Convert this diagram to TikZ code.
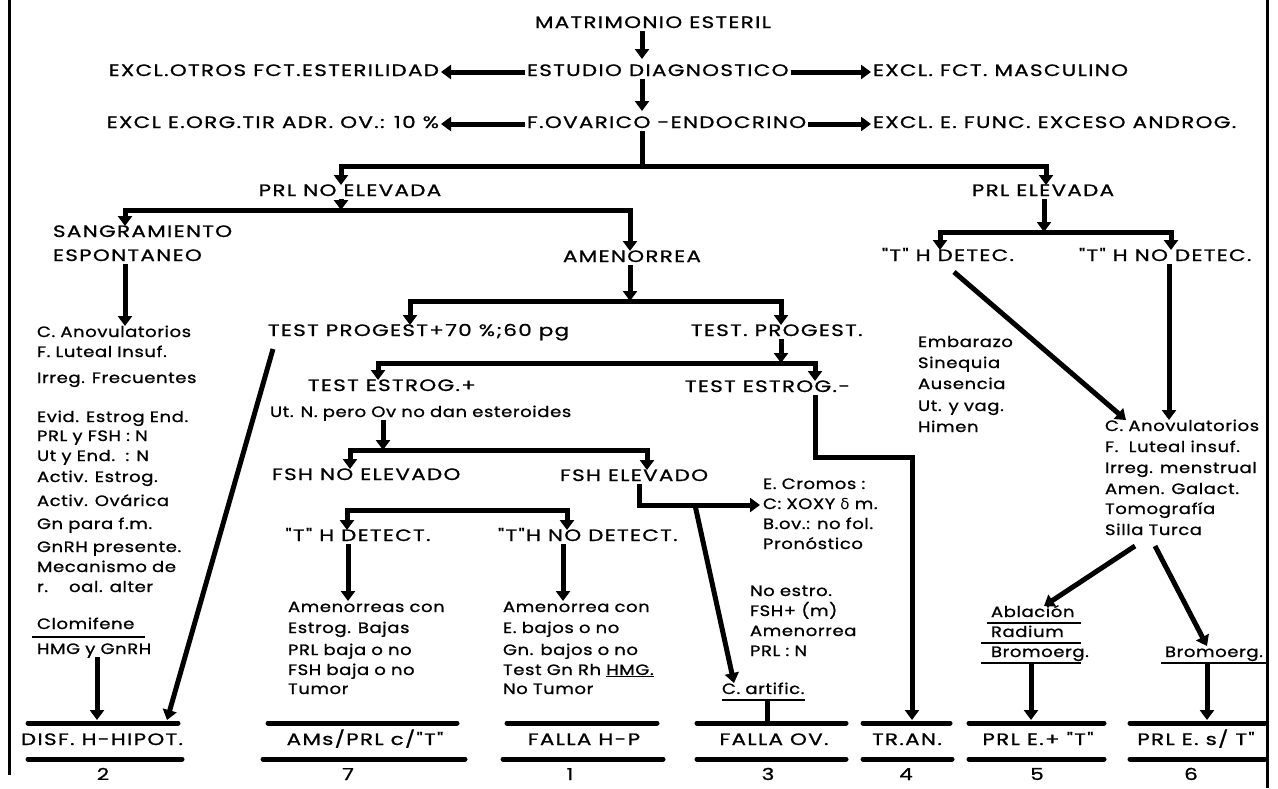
\documentclass[tikz,border=0pt]{standalone}
\usepackage{fontspec}
\setmainfont{Poppins}[FakeStretch=1.2,LetterSpace=4,WordSpace=0.95,FakeBold=1]
\newfontfamily\capf{Poppins}[FakeStretch=1.3,LetterSpace=8,FakeBold=1]
\newfontfamily\grk{DejaVu Sans}
\usetikzlibrary{arrows.meta}
\begin{document}
\begin{tikzpicture}[x=1pt,y=-1pt,
 every node/.style={inner sep=0pt,outer sep=0pt,text height=11pt,text depth=3pt,font=\fontsize{15}{18}\selectfont},
 capt/.style={font=\capf\fontsize{16.5}{19}\selectfont},
 lw/.style={anchor=west},
 conn/.style={line width=5pt},
 arr/.style={line width=5pt,-{Triangle[length=10pt,width=14pt]}},
 ul/.style={line width=2.5pt},
 bl/.style={line width=5pt,line cap=round},
 frm/.style={line width=3pt}]
\useasboundingbox (0,0) rectangle (1278,788);
% frame
\draw[frm] (9,0) -- (9,775);
\draw[frm] (1267,0) -- (1267,788);
% top
\coordinate (cx) at (642,0);
\node[capt] (matri) at (653,24) {MATRIMONIO ESTERIL};
\node[lw,capt] (estudio) at (527,72) {ESTUDIO DIAGNOSTICO};
\node[anchor=east,capt] (exotros) at (439,72) {EXCL.OTROS FCT.ESTERILIDAD};
\node[lw,capt] (exmasc) at (873,72) {EXCL. FCT. MASCULINO};
\node[lw,capt] (fovar) at (527,124) {F.OVARICO -ENDOCRINO};
\node[anchor=east,capt] (exorg) at (439,124) {EXCL E.ORG.TIR ADR. OV.: 10 \%};
\node[lw,capt] (exfunc) at (873,124) {EXCL. E. FUNC. EXCESO ANDROG.};
\draw[arr,shorten >=2pt,shorten <=2pt] (estudio.west) -- (exotros.east);
\draw[arr,shorten >=2pt,shorten <=2pt] (estudio.east) -- (exmasc.west);
\draw[arr,shorten >=2pt,shorten <=2pt] (fovar.west) -- (exorg.east);
\draw[arr,shorten >=2pt,shorten <=2pt] (fovar.east) -- (exfunc.west);
\draw[arr,shorten >=6pt] (matri.south -| cx) -- (estudio.north -| cx);
\draw[arr,shorten >=6pt] (estudio.south -| cx) -- (fovar.north -| cx);
% level PRL
\coordinate (j1) at (642,166);
\node[capt] (prlno) at (350,192) {PRL NO ELEVADA};
\node[capt] (prlel) at (1043,192) {PRL ELEVADA};
\draw[conn] (fovar.south -| cx) -- (j1);
\draw[arr] (j1) -| ([xshift=-9pt]prlno.north);
\draw[arr] (j1) -| ([xshift=3pt]prlel.north);
% PRL no elevada
\coordinate (j2) at (341,210);
\draw[arr] ([xshift=-9pt]prlno.south) -- (j2);
\node[lw,capt] (sang) at (53,233) {SANGRAMIENTO};
\node[lw,capt] (espont) at (53,257) {ESPONTANEO};
\node[lw,capt] (amen) at (563,258) {AMENORREA};
\draw[arr] (j2) -| (sang.north -| 125,0);
\draw[arr] (j2) -| (amen.north -| 630,0);
% left list
\node[lw] (la1) at (37,333) {C. Anovulatorios};
\node[lw] (la2) at (37,353) {F. Luteal Insuf.};
\node[lw] (la3) at (37,379) {Irreg. Frecuentes};
\node[lw] (la4) at (37,418) {Evid. Estrog End.};
\node[lw] (la5) at (37,437) {PRL y FSH : N};
\node[lw] (la6) at (37,457) {Ut y End.\ \ : N};
\node[lw] (la7) at (37,478) {Activ. Estrog.};
\node[lw] (la8) at (37,502) {Activ. Ovárica};
\node[lw] (la9) at (37,525) {Gn para f.m.};
\node[lw] (la10) at (37,548) {GnRH presente.};
\node[lw] (la11) at (37,568) {Mecanismo de};
\node[lw] (la12) at (37,588) {r.\hspace{1.4em}oal. alter};
\node[lw] (la13) at (37,625) {Clomifene};
\node[lw] (la14) at (37,650) {HMG y GnRH};
\draw[ul] (32,637) -- (145,637);
\draw[arr] (espont.south -| 125,0) -- (la1.north -| 125,0);
% amenorrea
\coordinate (j3) at (630,301);
\draw[arr] (amen.south -| j3) -- (j3);
\node[lw,capt] (tp1) at (268,332) {TEST PROGEST+70 \%;60 pg};
\node[lw,capt] (tp2) at (691,332) {TEST. PROGEST.};
\draw[arr] (j3) -| (tp1.north -| 410,0);
\draw[arr] (j3) -| (tp2.north -| 781,0);
\coordinate (j4) at (781,363);
\draw[arr] (tp2.south -| j4) -- (j4);
\node[lw,capt] (te1) at (308,387) {TEST ESTROG.+};
\node[lw,capt] (te2) at (685,388) {TEST ESTROG.-};
\draw[arr] (j4) -| (te1.north -| 378,0);
\draw[arr] (j4) -| (te2.north -| 815,0);
\node[lw] (utn) at (270,413) {Ut. N. pero Ov no dan esteroides};
\coordinate (j5) at (383,450);
\draw[arr] (utn.south -| j5) -- (j5);
\node[lw,capt] (fshno) at (272,476) {FSH NO ELEVADO};
\node[lw,capt] (fshel) at (560,477) {FSH ELEVADO};
\draw[arr] (j5) -| (fshno.north -| 350,0);
\draw[arr] (j5) -| (fshel.north -| 647,0);
% FSH no elevado
\coordinate (j6) at (457,510);
\node[capt] (tdet) at (358,537) {"T" H DETECT.};
\node[lw,capt] (tndet) at (498,537) {"T"H NO DETECT.};
\draw[arr] (j6) -| (tdet.north -| 347,0);
\draw[arr] (j6) -| (tndet.north -| 567,0);
\node[lw] (m1) at (288,608) {Amenorreas con};
\node[lw] (m2) at (288,629) {Estrog. Bajas};
\node[lw] (m3) at (288,651) {PRL baja o no};
\node[lw] (m4) at (288,671) {FSH baja o no};
\node[lw] (m5) at (288,690) {Tumor};
\node[lw] (n1) at (503,608) {Amenorrea con};
\node[lw] (n2) at (503,629) {E. bajos o no};
\node[lw] (n3) at (503,651) {Gn. bajos o no};
\node[lw] (n4) at (503,671) {Test Gn Rh \underline{HMG.}};
\node[lw] (n5) at (503,690) {No Tumor};
\draw[arr] (tdet.south -| 348,0) -- (m1.north -| 348,0);
\draw[arr] (tndet.south -| 563,0) -- (n1.north -| 563,0);
% FSH elevado
\node[lw] (ec1) at (763,485) {E. Cromos :};
\node[lw] (ec2) at (763,505) {C: XOXY {\grk δ} m.};
\node[lw] (ec3) at (763,525) {B.ov.: no fol.};
\node[lw] (ec4) at (763,545) {Pronóstico};
\draw[arr,shorten >=3pt] (fshel.south -| 639,0) |- (ec2.west);
\coordinate (dg) at (695,505);
\node[lw] (cart) at (722,690) {C. artific.};
\draw[arr] (dg) -- ([xshift=12pt]cart.north west);
\draw[ul] ([yshift=-3pt]cart.south west) -- ([yshift=-3pt]cart.south east);
\node[lw] (ne1) at (750,592) {No estro.};
\node[lw] (ne2) at (750,612) {FSH+ (m)};
\node[lw] (ne3) at (750,632) {Amenorrea};
\node[lw] (ne4) at (750,652) {PRL : N};
% test estrog -
\coordinate (k1) at (912,457);
\coordinate (t4) at (912,720);
\draw[arr] (te2.south -| 815,0) |- (k1) -- (t4);
% PRL elevada
\coordinate (j7) at (1044,232);
\draw[arr] ([xshift=1pt]prlel.south) -- (j7);
\node[capt] (thdet) at (948,257) {"T" H DETEC.};
\node[lw,capt] (thndet) at (1079,257) {"T" H NO DETEC.};
\draw[arr] (j7) -| (thdet.north -| 940,0);
\draw[arr] (j7) -| (thndet.north -| 1171,0);
\node[lw] (em1) at (918,343) {Embarazo};
\node[lw] (em2) at (918,364) {Sinequia};
\node[lw] (em3) at (918,385) {Ausencia};
\node[lw] (em4) at (918,407) {Ut. y vag.};
\node[lw] (em5) at (918,428) {Himen};
\node[lw] (r1) at (1105,427) {C. Anovulatorios};
\node[lw] (r2) at (1105,448) {F.\ \ Luteal insuf.};
\node[lw] (r3) at (1105,469) {Irreg. menstrual};
\node[lw] (r4) at (1105,490) {Amen. Galact.};
\node[lw] (r5) at (1105,510) {Tomografía};
\node[lw] (r6) at (1105,531) {Silla Turca};
\draw[arr] (thdet.south) ++(6,8) -- ([xshift=21pt]r1.north west);
\draw[arr] (thndet.south -| 1169,0) -- (r1.north -| 1169,0);
\node[lw] (abl) at (991,613) {Ablación};
\node[lw] (rad) at (991,633) {Radium};
\node[lw] (bro1) at (991,653) {Bromoerg.};
\node[lw] (bro2) at (1165,653) {Bromoerg.};
\draw[ul] (987,623) -- (1081,623);
\draw[ul] (981,643) -- (1081,643);
\draw[ul] (981,663) -- (1081,663);
\draw[ul] (1161,663) -- (1267,663);
\draw[arr] (r6.south west) ++(30,8) -- ([xshift=53pt]abl.north west);
\draw[arr] (r6.south west) ++(50,8) -- ([xshift=42pt]bro2.north west);
\draw[arr] (bro1.south -| 1031,0) ++(0,3) -- (1031,720);
\draw[arr] (bro2.south -| 1207,0) ++(0,3) -- (1207,720);
% arrows into bottom boxes
\draw[arr] (la14.south -| 97,0) -- (97,720);
\draw[arr] (tp1.south west) ++(5,10) -- (167,720);
\draw[conn] ([yshift=-3pt]cart.south -| 767,0) -- (767,723);
% bottom boxes
\draw[bl] (28,723) -- (178,723); \draw[bl] (28,759) -- (182,759);
\node[capt] (bx2) at (102,741) {DISF. H-HIPOT.};
\node[capt] (no2) at (103,776) {2};
\draw[bl] (268,723) -- (457,723); \draw[bl] (263,759) -- (465,759);
\node[capt] (bx7) at (365,741) {AMs/PRL c/"T"};
\node[capt] (no7) at (348,776) {7};
\draw[bl] (507,723) -- (657,723); \draw[bl] (503,759) -- (663,759);
\node[capt] (bx1) at (584,741) {FALLA H-P};
\node[capt] (no1) at (570,776) {1};
\draw[bl] (697,723) -- (846,723); \draw[bl] (697,759) -- (846,759);
\node[capt] (bx3) at (774,741) {FALLA OV.};
\node[capt] (no3) at (768,776) {3};
\draw[bl] (863,723) -- (950,723); \draw[bl] (863,759) -- (952,759);
\node[capt] (bx4) at (907,741) {TR.AN.};
\node[capt] (no4) at (906,776) {4};
\draw[bl] (969,723) -- (1104,723); \draw[bl] (969,759) -- (1104,759);
\node[capt] (bx5) at (1038,741) {PRL E.+ "T"};
\node[capt] (no5) at (1037,776) {5};
\draw[bl] (1130,723) -- (1265,723); \draw[bl] (1130,759) -- (1265,759);
\node[capt] (bx6) at (1196,741) {PRL E. s/ T"};
\node[capt] (no6) at (1191,776) {6};
\end{tikzpicture}
\end{document}
